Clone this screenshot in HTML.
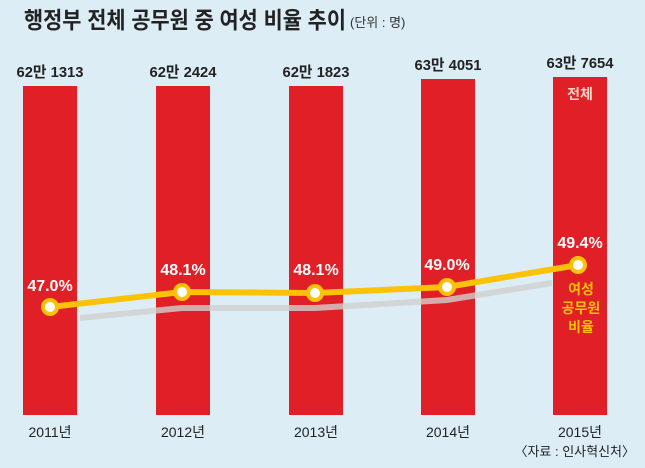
<!DOCTYPE html><html><head><meta charset="utf-8"><style>
body{margin:0;width:645px;height:468px;background:#dcedf6;overflow:hidden}
svg{display:block}
text{font-family:"Liberation Sans","Noto Sans CJK KR",sans-serif}
</style></head><body>
<svg width="645" height="468" viewBox="0 0 645 468">
<rect width="645" height="468" fill="#dcedf6"/>
<text x="24" y="28" font-size="23" font-weight="bold" fill="#222" textLength="322" lengthAdjust="spacingAndGlyphs">행정부 전체 공무원 중 여성 비율 추이</text>
<text x="350" y="27" font-size="13" fill="#333">(단위 : 명)</text>
<g fill="#e01f26">
<rect x="23" y="86" width="54" height="329"/>
<rect x="156" y="86" width="54" height="329"/>
<rect x="289" y="86" width="54" height="329"/>
<rect x="421" y="79" width="54" height="336"/>
<rect x="553" y="77" width="54" height="338"/>
</g>
<g font-size="15" font-weight="bold" fill="#222" text-anchor="middle">
<text x="50" y="77" textLength="67" lengthAdjust="spacingAndGlyphs">62만 1313</text><text x="183" y="77" textLength="67" lengthAdjust="spacingAndGlyphs">62만 2424</text><text x="316" y="77" textLength="67" lengthAdjust="spacingAndGlyphs">62만 1823</text><text x="448" y="70" textLength="67" lengthAdjust="spacingAndGlyphs">63만 4051</text><text x="580" y="68" textLength="67" lengthAdjust="spacingAndGlyphs">63만 7654</text>
</g>
<text x="580" y="99" font-size="14" font-weight="bold" fill="#f8d6c8" text-anchor="middle">전체</text>
<polyline points="80,318 182,308 315,308 447,300 552,283" fill="none" stroke="#cfcfcf" stroke-opacity="0.8" stroke-width="6"/>
<polyline points="50,307 182,292 315,293 447,287 578,265" fill="none" stroke="#fbc208" stroke-width="6"/>
<g fill="#fff" stroke="#fbc208" stroke-width="4">
<circle cx="50" cy="307" r="7"/><circle cx="182" cy="292" r="7"/><circle cx="315" cy="293" r="7"/><circle cx="447" cy="287" r="7"/><circle cx="578" cy="265" r="7"/>
</g>
<g font-size="16" font-weight="bold" fill="#fff" text-anchor="middle">
<text x="50" y="291">47.0%</text><text x="183" y="275">48.1%</text><text x="316" y="275">48.1%</text><text x="447" y="270">49.0%</text><text x="580" y="248">49.4%</text>
</g>
<g font-size="14" font-weight="bold" fill="#fbc208" text-anchor="middle">
<text x="581" y="294">여성</text><text x="581" y="313">공무원</text><text x="581" y="332">비율</text>
</g>
<g font-size="14" fill="#222" text-anchor="middle">
<text x="50" y="437">2011년</text><text x="183" y="437">2012년</text><text x="316" y="437">2013년</text><text x="448" y="437">2014년</text><text x="580" y="437">2015년</text>
</g>
<text x="635" y="456" font-size="13" fill="#222" text-anchor="end">〈자료 : 인사혁신처〉</text>
</svg>
</body></html>
